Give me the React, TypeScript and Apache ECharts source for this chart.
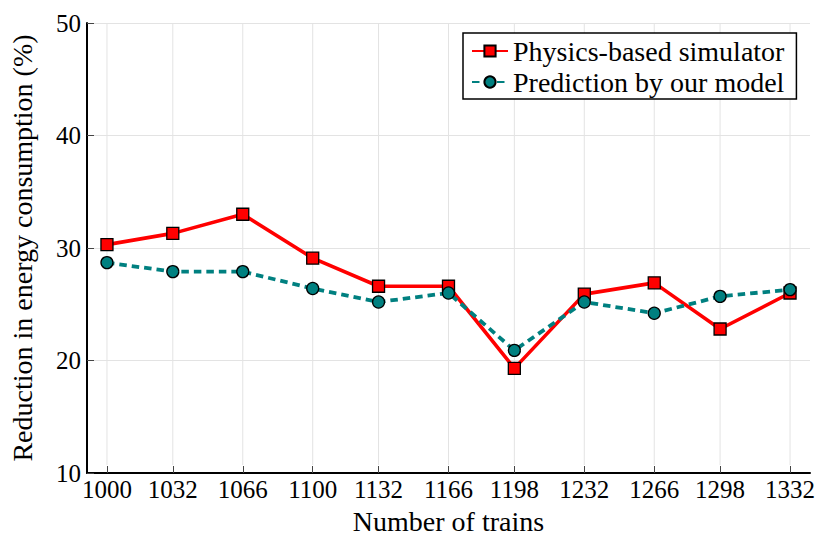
import React, { useEffect, useRef } from "react";
import * as echarts from "echarts";

const xTicks = [1000, 1032, 1066, 1100, 1132, 1166, 1198, 1232, 1266, 1298, 1332];
const physicsValues = [30.3, 31.3, 33.0, 29.1, 26.6, 26.6, 19.3, 25.9, 26.9, 22.8, 26.0];
const predictionValues = [28.7, 27.9, 27.9, 26.4, 25.2, 26.0, 20.9, 25.2, 24.2, 25.7, 26.3];
const yTicks = [10, 20, 30, 40, 50];

const FONT = "Liberation Serif";
const Y_MIN = 10;
const Y_MAX = 50;

export default function App() {
  const ref = useRef<HTMLDivElement>(null);
  useEffect(() => {
    if (!ref.current) return;
    const chart = echarts.init(ref.current, null, { renderer: "svg" });
    const option: any = {
      animation: false,
      backgroundColor: "#ffffff",
      textStyle: { fontFamily: FONT, color: "#000" },
      grid: { left: 87, right: 21, top: 23, bottom: 71, containLabel: false },
      legend: {
        left: 463,
        top: 33,
        orient: "vertical",
        padding: [3, 12, 2, 8],
        itemGap: 1,
        itemWidth: 36,
        itemHeight: 14,
        borderColor: "#000",
        borderWidth: 1.5,
        borderRadius: 0,
        backgroundColor: "#fff",
        textStyle: { fontFamily: FONT, fontSize: 28, color: "#000", lineHeight: 30 },
        data: ["Physics-based simulator", "Prediction by our model"],
      },
      xAxis: {
        type: "value",
        min: 990.3,
        max: 1341.7,
        name: "Number of trains",
        nameLocation: "middle",
        nameGap: 34,
        nameTextStyle: { fontFamily: FONT, fontSize: 28, color: "#000" },
        axisLine: { show: true, onZero: false, lineStyle: { color: "#000", width: 2 } },
        axisTick: { show: true, inside: true, length: 7, customValues: xTicks, lineStyle: { color: "#444", width: 1 } },
        axisLabel: {
          customValues: xTicks,
          fontFamily: FONT,
          fontSize: 25,
          color: "#000",
          margin: 4,
          formatter: (v: number) => String(v),
        },
        splitLine: { show: false },
      },
      yAxis: {
        type: "value",
        min: Y_MIN,
        max: Y_MAX,
        interval: 10,
        name: "Reduction in energy consumption (%)",
        nameLocation: "middle",
        nameGap: 51,
        nameTextStyle: { fontFamily: FONT, fontSize: 28, color: "#000" },
        axisLine: { show: true, lineStyle: { color: "#000", width: 2 } },
        axisTick: { show: true, inside: true, length: 7, lineStyle: { color: "#444", width: 1 } },
        axisLabel: {
          fontFamily: FONT,
          fontSize: 25,
          color: "#000",
          margin: 6,
          customValues: yTicks,
        },
        splitLine: { show: true, lineStyle: { color: "#e3e3e3", width: 1 } },
      },
      series: [
        {
          name: "gridX",
          type: "custom",
          z: 1,
          silent: true,
          data: xTicks.map((x) => [x]),
          renderItem: (params: any, api: any) => {
            const x = api.value(0);
            const p1 = api.coord([x, Y_MIN]);
            const p2 = api.coord([x, Y_MAX]);
            return {
              type: "line",
              shape: { x1: p1[0], y1: p1[1] - 8, x2: p2[0], y2: p2[1] },
              style: { stroke: "#e3e3e3", lineWidth: 1 },
            };
          },
        },
        {
          name: "Physics-based simulator",
          type: "line",
          data: xTicks.map((x, i) => [x, physicsValues[i]]),
          symbol: "rect",
          symbolSize: 12,
          z: 3,
          lineStyle: { color: "#ff0000", width: 3.6 },
          itemStyle: { color: "#ff0000", borderColor: "#000", borderWidth: 1.3 },
        },
        {
          name: "Prediction by our model",
          type: "line",
          data: xTicks.map((x, i) => [x, predictionValues[i]]),
          symbol: "circle",
          symbolSize: 12,
          z: 4,
          lineStyle: { color: "#008080", width: 3.8, type: [7.5, 5] },
          itemStyle: { color: "#008080", borderColor: "#000", borderWidth: 1.3 },
        },
      ],
    };
    chart.setOption(option);
    return () => chart.dispose();
  }, []);
  return (
    <div
      ref={ref}
      style={{ position: "fixed", left: 0, top: 0, width: 831, height: 544 }}
    />
  );
}
